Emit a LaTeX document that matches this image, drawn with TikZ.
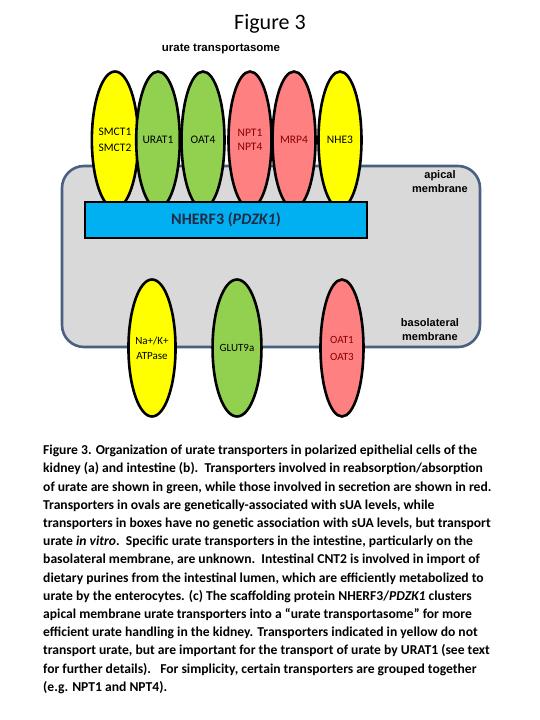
\documentclass[tikz,border=0pt]{standalone}
\usepackage{fontspec}
\setmainfont{Carlito}
\newfontfamily\arialfont{Liberation Sans}
\usepackage{tikz}
\usetikzlibrary{shapes.geometric}
\definecolor{cellgray}{HTML}{D9D9D9}
\definecolor{cellline}{HTML}{4A6082}
\definecolor{scafblue}{HTML}{00B0F0}
\definecolor{tyellow}{HTML}{FFFF00}
\definecolor{tgreen}{HTML}{92D050}
\definecolor{tred}{HTML}{FF8080}
\definecolor{tredtext}{HTML}{8B0000}
\definecolor{navytext}{HTML}{1F2A44}
\tikzset{
  transporter/.style={ellipse, draw=black, line width=2.6pt, inner sep=0pt,
    minimum width=43pt, minimum height=137pt, align=center,
    font=\fontsize{11.5}{16}\selectfont},
  yellowt/.style={transporter, fill=tyellow, text=black},
  greent/.style={transporter, fill=tgreen, text=black},
  redt/.style={transporter, fill=tred, text=tredtext},
  sidelabel/.style={align=center, font=\arialfont\bfseries\fontsize{11}{14}\selectfont}
}

\begin{document}
\begin{tikzpicture}[x=1pt, y=-1pt]
    \useasboundingbox (0,0) rectangle (540,720);
    \node (title) at (270,24) {\fontsize{22}{26}\selectfont Figure 3};
    \node[sidelabel, font=\arialfont\bfseries\fontsize{11.5}{14}\selectfont] (tsome) at (221,49) {urate transportasome};
    % cell
    \draw[cellline, fill=cellgray, line width=2.6pt, rounded corners=22pt] (62,166) rectangle (480,347);
    \node[sidelabel] (apical) at (440,182) {apical\\membrane};
    \node[sidelabel] (baso) at (430,330) {basolateral\\membrane};
    % apical transporters
    \node[yellowt, font=\fontsize{11.5}{16}\selectfont] (smct) at (115,140) {SMCT1\\SMCT2};
    \node[greent] (urat) at (158,140) {URAT1};
    \node[greent] (oat4) at (203,140) {OAT4};
    \node[redt, font=\fontsize{11.5}{14}\selectfont] (npt) at (250,140) {NPT1\\NPT4};
    \node[redt] (mrp) at (294,140) {MRP4};
    \node[yellowt] (nhe) at (340,140) {NHE3};
    % scaffold
    \draw[fill=scafblue, line width=2pt] (85,202) rectangle (367,238);
    \node[font=\bfseries\fontsize{16}{18}\selectfont, text=navytext] (nherf) at (226,220) {NHERF3 (\textit{PDZK1})};
    % basolateral transporters
    \node[yellowt, font=\fontsize{11}{15}\selectfont] (atpase) at (152,348) {Na+/K+\\ATPase};
    \node[greent, font=\fontsize{11}{15}\selectfont] (glut) at (237,348) {GLUT9a};
    \node[redt, font=\fontsize{11}{17}\selectfont] (oat13) at (342,348) {OAT1\\OAT3};
    % caption
    \node[anchor=north west, align=left, inner sep=0pt, font=\bfseries\fontsize{13.6}{18.2}\selectfont] (caption) at (43,445) {%
Figure 3. Organization of urate transporters in polarized epithelial cells of the\\
kidney (a) and intestine (b).\ \ Transporters involved in reabsorption/absorption\\
of urate are shown in green, while those involved in secretion are shown in red.\\
Transporters in ovals are genetically-associated with sUA levels, while\\
transporters in boxes have no genetic association with sUA levels, but transport\\
urate \textit{in vitro}.\ \ Specific urate transporters in the intestine, particularly on the\\
basolateral membrane, are unknown.\ \ Intestinal CNT2 is involved in import of\\
dietary purines from the intestinal lumen, which are efficiently metabolized to\\
urate by the enterocytes. (c) The scaffolding protein NHERF3/\textit{PDZK1} clusters\\
apical membrane urate transporters into a “urate transportasome” for more\\
efficient urate handling in the kidney. Transporters indicated in yellow do not\\
transport urate, but are important for the transport of urate by URAT1 (see text\\
for further details).\ \ \ For simplicity, certain transporters are grouped together\\
(e.g. NPT1 and NPT4).};
\end{tikzpicture}
\end{document}
